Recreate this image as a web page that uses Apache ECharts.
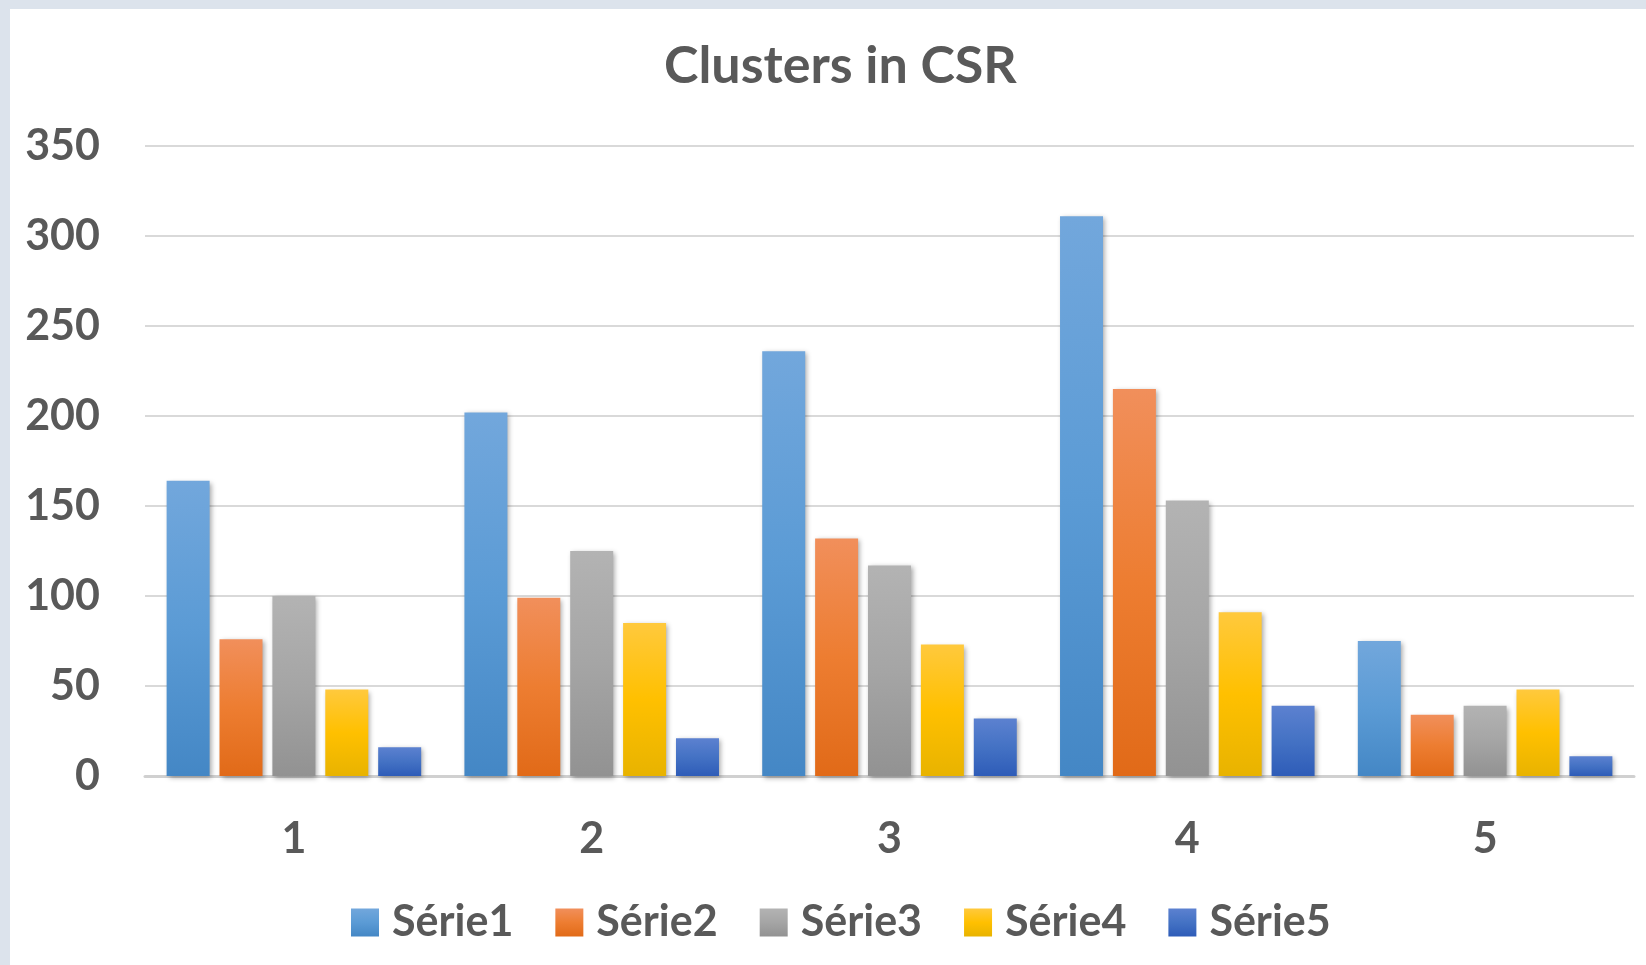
<!DOCTYPE html>
<html>
<head>
<meta charset="utf-8">
<script src="https://cdn.jsdelivr.net/npm/echarts@6/dist/echarts.min.js"></script>
<style>
  html, body { margin: 0; padding: 0; background: #dce3ec; }
  #chart { position: absolute; left: 10px; top: 9px; width: 1636px; height: 956px; background: #fff; }
</style>
</head>
<body>
<div id="chart"></div>
<script>
const categories = ['1', '2', '3', '4', '5']
const serie1 = [164, 202, 236, 311, 75]
const serie2 = [76, 99, 132, 215, 34]
const serie3 = [100, 125, 117, 153, 39]
const serie4 = [48, 85, 73, 91, 48]
const serie5 = [16, 21, 32, 39, 11]
const yTicks = [0, 50, 100, 150, 200, 250, 300, 350]

const names = ['Série1', 'Série2', 'Série3', 'Série4', 'Série5']
const values = [serie1, serie2, serie3, serie4, serie5]
// top, middle, bottom of the excel-like gradient
const palette = [
    ['#72a7dc', '#5b9bd5', '#4487c5'],
    ['#f18f5b', '#ed7d31', '#e16a18'],
    ['#b3b3b3', '#a5a5a5', '#929292'],
    ['#ffc93d', '#ffc000', '#e8b300'],
    ['#5c81d0', '#4472c4', '#2e5cb8']
]

const font = 'Lato, "Open Sans", sans-serif'
const textColor = '#595959'

function gradient(c) {
    return new echarts.graphic.LinearGradient(0, 0, 0, 1, [
        {offset: 0, color: c[0]},
        {offset: 0.5, color: c[1]},
        {offset: 1, color: c[2]}
    ])
}

const chart = echarts.init(document.getElementById('chart'), null, {renderer: 'canvas'})

const series = names.map((name, i) => ({
    name: name,
    type: 'bar',
    data: values[i],
    barWidth: 43,
    barGap: '23%',
    itemStyle: {
        color: gradient(palette[i]),
        shadowBlur: 5,
        shadowColor: 'rgba(0,0,0,0.35)',
        shadowOffsetX: 2,
        shadowOffsetY: 2
    }
}))

chart.setOption({
    animation: false,
    title: {
        text: 'Clusters in CSR',
        left: 654,
        top: 31,
        padding: 0,
        textStyle: {fontFamily: font, fontWeight: 'bold', fontSize: 52, color: textColor}
    },
    legend: {
        data: names.map((n, i) => ({name: n, itemStyle: {color: gradient(palette[i])}})),
        left: 336,
        top: 887,
        itemWidth: 28,
        itemHeight: 28,
        itemGap: 42,
        icon: 'rect',
        textStyle: {fontFamily: font, fontWeight: 'bold', fontSize: 43, color: textColor, padding: [0, 0, 0, 8]}
    },
    grid: {left: 135, right: 12, top: 137, bottom: 189},
    xAxis: {
        type: 'category',
        data: categories,
        axisTick: {show: false},
        axisLine: {lineStyle: {color: '#d0d0d0', width: 3}},
        axisLabel: {margin: 42, fontFamily: font, fontWeight: 'bold', fontSize: 43, color: textColor}
    },
    yAxis: {
        type: 'value',
        min: yTicks[0],
        max: yTicks[yTicks.length - 1],
        interval: 50,
        axisLine: {show: false},
        axisTick: {show: false},
        splitLine: {lineStyle: {color: '#d9d9d9', width: 2}},
        axisLabel: {margin: 45, fontFamily: font, fontWeight: 'bold', fontSize: 43, color: textColor}
    },
    series: series
})
</script>
</body>
</html>
